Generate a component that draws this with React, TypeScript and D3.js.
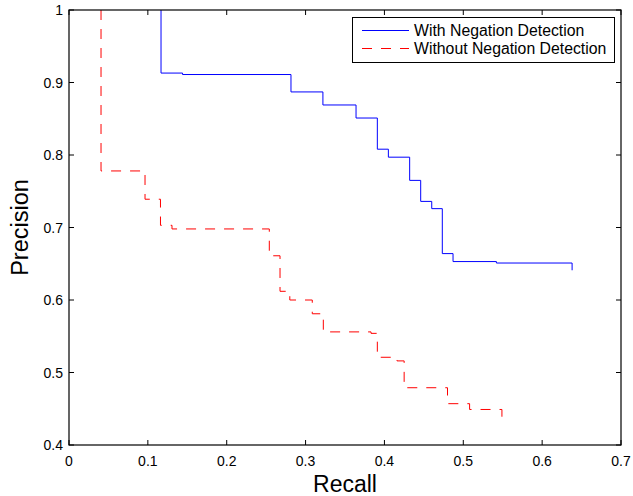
import React from "react";
import { scaleLinear, line, curveStepAfter, range } from "d3";

// step curve corners (recall, precision), drawn with curveStepAfter
const withRecall = [0.1167, 0.1167, 0.144, 0.2815, 0.322, 0.364, 0.391, 0.405, 0.432, 0.446, 0.46, 0.4734, 0.487, 0.542, 0.638];
const withPrecision = [1.0, 0.913, 0.911, 0.887, 0.869, 0.851, 0.808, 0.797, 0.765, 0.736, 0.726, 0.664, 0.653, 0.651, 0.641];

const withoutRecall = [0.0406, 0.0406, 0.0964, 0.116, 0.1306, 0.254, 0.2676, 0.28, 0.3085, 0.3225, 0.383, 0.391, 0.416, 0.425, 0.48, 0.508, 0.549];
const withoutPrecision = [1.0, 0.778, 0.739, 0.703, 0.698, 0.661, 0.612, 0.6, 0.581, 0.556, 0.554, 0.521, 0.516, 0.479, 0.457, 0.449, 0.439];

const xTicks = range(0, 0.71, 0.1);
const yTicks = range(0.4, 1.01, 0.1);
const seriesNames = ["With Negation Detection", "Without Negation Detection"];

const App = () => {
    const width = 633
    const height = 496
    const left = 69, right = 621, top = 10, bottom = 445
    const font = "Liberation Sans, Arial, sans-serif"

    const x = scaleLinear().domain([0, 0.7]).range([left, right])
    const y = scaleLinear().domain([0.4, 1]).range([bottom, top])

    const makePath = (rs: number[], ps: number[]) =>
        line<[number, number]>()
            .x(d => x(d[0]))
            .y(d => y(d[1]))
            .curve(curveStepAfter)(rs.map((r, i) => [r, ps[i]]))

    const tick = 5

    return <svg width={width} height={height} viewBox={`0 0 ${width} ${height}`}
        style={{ position: "absolute", left: 0, top: 0, background: "#fff" }}>
        <rect x={0} y={0} width={width} height={height} fill="#fff" />

        {/* curves */}
        <path d={makePath(withRecall, withPrecision) || ""} fill="none" stroke="#0000ff" strokeWidth={1} />
        <path d={makePath(withoutRecall, withoutPrecision) || ""} fill="none" stroke="#ff0000" strokeWidth={1} strokeDasharray="10,9" />

        {/* box */}
        <rect x={left} y={top} width={right - left} height={bottom - top} fill="none" stroke="#000" strokeWidth={1.2} />

        {xTicks.map((t, i) => (
            <g key={"x" + i}>
                <line x1={x(t)} x2={x(t)} y1={bottom} y2={bottom - tick} stroke="#000" />
                <line x1={x(t)} x2={x(t)} y1={top} y2={top + tick} stroke="#000" />
                <text x={x(t)} y={466} textAnchor="middle" fontFamily={font} fontSize={14}>
                    {i === 0 ? "0" : t.toFixed(1)}
                </text>
            </g>
        ))}
        {yTicks.map((t, i) => (
            <g key={"y" + i}>
                <line x1={left} x2={left + tick} y1={y(t)} y2={y(t)} stroke="#000" />
                <line x1={right} x2={right - tick} y1={y(t)} y2={y(t)} stroke="#000" />
                <text x={63} y={y(t) + 5} textAnchor="end" fontFamily={font} fontSize={14}>
                    {Math.abs(t - 1) < 1e-6 ? "1" : t.toFixed(1)}
                </text>
            </g>
        ))}

        <text x={345} y={492} textAnchor="middle" fontFamily={font} fontSize={23}>Recall</text>
        <text transform={`translate(28, ${(top + bottom) / 2}) rotate(-90)`} textAnchor="middle"
            fontFamily={font} fontSize={23.5}>Precision</text>

        {/* legend */}
        <rect x={352.5} y={17.5} width={262} height={45} fill="#fff" stroke="#000" strokeWidth={1} />
        <line x1={362} x2={409} y1={30.5} y2={30.5} stroke="#0000ff" />
        <line x1={362} x2={409} y1={48.5} y2={48.5} stroke="#ff0000" strokeDasharray="10,9" />
        <text x={414} y={36} fontFamily={font} fontSize={15.8}>{seriesNames[0]}</text>
        <text x={414} y={54} fontFamily={font} fontSize={15.8}>{seriesNames[1]}</text>
    </svg>
}

export default App;
